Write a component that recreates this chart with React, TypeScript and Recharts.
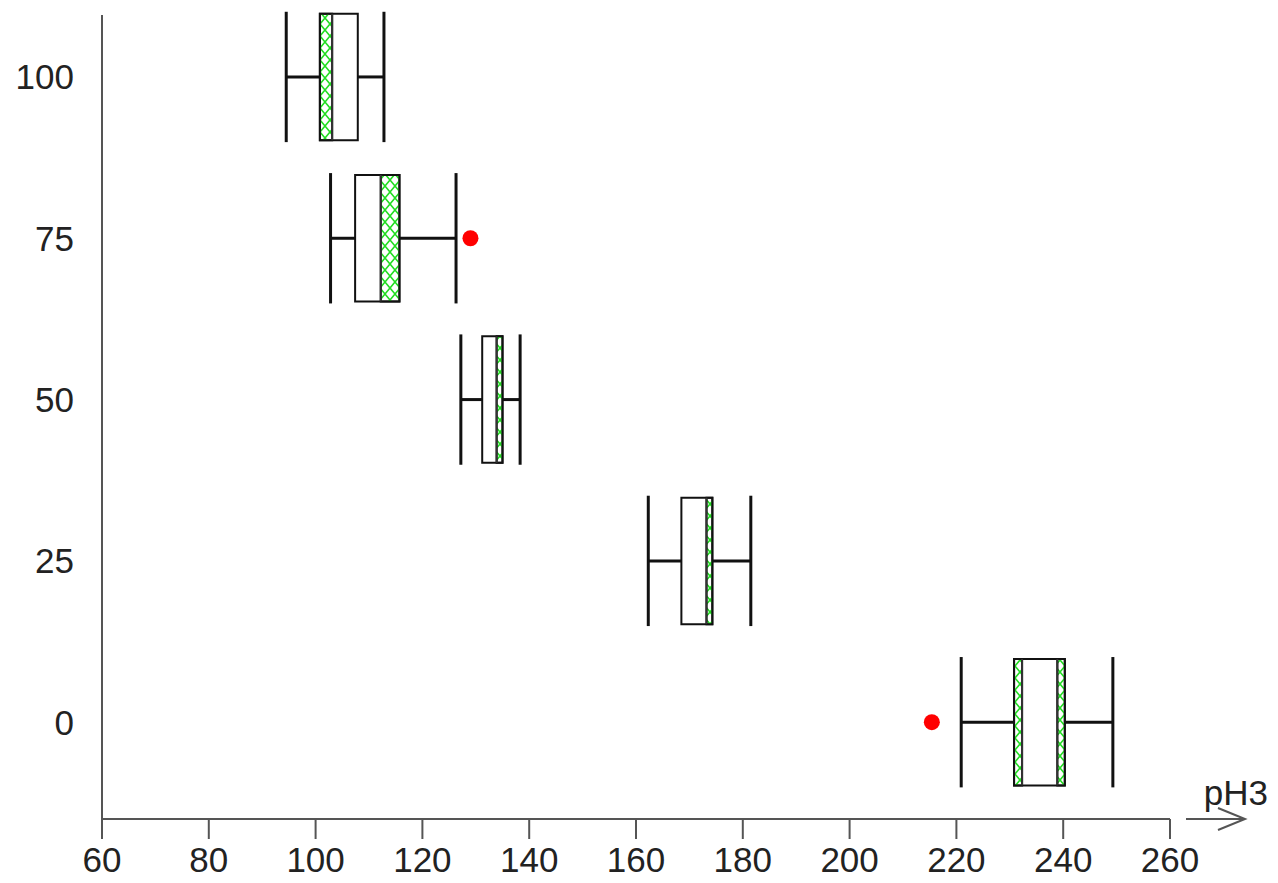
import { ReferenceArea, ReferenceLine, Scatter, ScatterChart, XAxis, YAxis } from 'recharts'

const groups = [100, 75, 50, 25, 0]
const whiskerLow = [94.5, 102.8, 127.2, 162.3, 220.9]
const q1 = [100.8, 107.4, 131.2, 168.5, 230.8]
const q3 = [107.9, 115.7, 135.0, 174.3, 240.3]
const whiskerHigh = [112.8, 126.3, 138.3, 181.5, 249.3]
const innerLines = [[103.1], [112.2], [133.9], [173.2], [232.3, 238.9]]
const hatchBands = [
  [[100.8, 103.1]],
  [[112.2, 115.7]],
  [[133.9, 135.0]],
  [[173.2, 174.3]],
  [[230.8, 232.3], [238.9, 240.3]],
]
const outliers = [
  { x: 129.0, y: 75 },
  { x: 215.4, y: 0 },
]
const xTicks = [60, 80, 100, 120, 140, 160, 180, 200, 220, 240, 260]
const yTicks = [0, 25, 50, 75, 100]

const BOX_HALF = 9.8
const CAP_HALF = 10.1
const FONT = '"Liberation Sans", Arial, sans-serif'
const AXIS_COLOR = '#555'

const AxisArrow = ({ viewBox }: { viewBox?: { x: number; y: number; width: number; height: number } }) => {
  if (!viewBox) return null
  const x0 = viewBox.x + viewBox.width + 16
  const y0 = viewBox.y
  const tip = x0 + 59
  return (
    <g>
      <line x1={x0} y1={y0} x2={tip} y2={y0} stroke={AXIS_COLOR} strokeWidth={2} />
      <polyline
        points={`${tip - 27},${y0 - 11} ${tip},${y0} ${tip - 27},${y0 + 11}`}
        fill="none"
        stroke={AXIS_COLOR}
        strokeWidth={2}
      />
      <text x={tip + 23} y={y0 - 14} textAnchor="end" fontSize={35} fontFamily={FONT} fill="#222">
        pH3
      </text>
    </g>
  )
}

const OutlierDot = (props: { cx?: number; cy?: number }) => {
  const { cx, cy } = props
  if (cx == null || cy == null) return <g />
  return <circle cx={cx} cy={cy} r={8} fill="#ff0000" />
}

export default function App() {
  return (
    <div style={{ width: 1278, height: 883, background: '#fff' }}>
      <style>{'body{margin:0}'}</style>
      <ScatterChart width={1278} height={883} margin={{ top: 15, right: 108, bottom: 0, left: 0 }}>
        <defs>
          <pattern id="hatch" width="10" height="12" patternUnits="userSpaceOnUse">
            <path d="M0,0 L10,12 M10,0 L0,12" stroke="#22dd22" strokeWidth={1.6} fill="none" />
          </pattern>
        </defs>
        <XAxis
          type="number"
          dataKey="x"
          domain={[60, 260]}
          ticks={xTicks}
          allowDataOverflow
          height={64}
          tickSize={20}
          tickMargin={8}
          stroke={AXIS_COLOR}
          strokeWidth={2}
          tick={{ fontSize: 35, fontFamily: FONT, fill: '#222' }}
          label={<AxisArrow />}
        />
        <YAxis
          type="number"
          dataKey="y"
          domain={[-15, 109.6]}
          ticks={yTicks}
          allowDataOverflow
          width={102}
          tickLine={false}
          tickSize={0}
          tickMargin={28}
          stroke={AXIS_COLOR}
          strokeWidth={2}
          tick={{ fontSize: 35, fontFamily: FONT, fill: '#222' }}
        />
        {groups.map((g, i) => (
          <ReferenceArea
            key={`box-${g}`}
            x1={q1[i]}
            x2={q3[i]}
            y1={g - BOX_HALF}
            y2={g + BOX_HALF}
            ifOverflow="visible"
            fill="#fff"
            fillOpacity={1}
            stroke="#111"
            strokeWidth={2}
          />
        ))}
        {groups.map((g, i) =>
          hatchBands[i].map(([a, b], j) => (
            <ReferenceArea
              key={`hatch-${g}-${j}`}
              x1={a}
              x2={b}
              y1={g - BOX_HALF}
              y2={g + BOX_HALF}
              ifOverflow="visible"
              fill="url(#hatch)"
              fillOpacity={1}
              stroke="#111"
              strokeWidth={2}
            />
          ))
        )}
        {groups.map((g, i) =>
          innerLines[i].map((v, j) => (
            <ReferenceLine
              key={`inner-${g}-${j}`}
              segment={[{ x: v, y: g - BOX_HALF }, { x: v, y: g + BOX_HALF }]}
              ifOverflow="visible"
              stroke="#333"
              strokeWidth={2}
            />
          ))
        )}
        {groups.map((g, i) => (
          <ReferenceLine
            key={`wl-${g}`}
            segment={[{ x: whiskerLow[i], y: g }, { x: q1[i], y: g }]}
            ifOverflow="visible"
            stroke="#111"
            strokeWidth={3}
          />
        ))}
        {groups.map((g, i) => (
          <ReferenceLine
            key={`wh-${g}`}
            segment={[{ x: q3[i], y: g }, { x: whiskerHigh[i], y: g }]}
            ifOverflow="visible"
            stroke="#111"
            strokeWidth={3}
          />
        ))}
        {groups.map((g, i) => (
          <ReferenceLine
            key={`capl-${g}`}
            segment={[{ x: whiskerLow[i], y: g - CAP_HALF }, { x: whiskerLow[i], y: g + CAP_HALF }]}
            ifOverflow="visible"
            stroke="#111"
            strokeWidth={3}
          />
        ))}
        {groups.map((g, i) => (
          <ReferenceLine
            key={`caph-${g}`}
            segment={[{ x: whiskerHigh[i], y: g - CAP_HALF }, { x: whiskerHigh[i], y: g + CAP_HALF }]}
            ifOverflow="visible"
            stroke="#111"
            strokeWidth={3}
          />
        ))}
        <Scatter data={outliers} shape={<OutlierDot />} isAnimationActive={false} />
      </ScatterChart>
    </div>
  )
}
